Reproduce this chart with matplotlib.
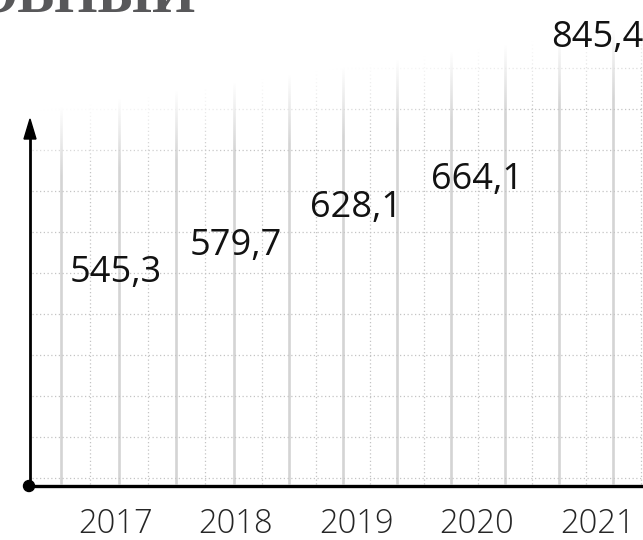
import numpy as np
import matplotlib
matplotlib.use("Agg")
import matplotlib.pyplot as plt
from matplotlib.patches import Polygon, Circle

# ---- data ----
years = ["2017", "2018", "2019", "2020", "2021"]
values = [545.3, 579.7, 628.1, 664.1, 845.4]
value_labels = ["545,3", "579,7", "628,1", "664,1", "845,4"]
title_fragment = "ОВНЫЙ"

W, H = 643, 540
fig = plt.figure(figsize=(W / 100, H / 100), dpi=100)
fig.patch.set_facecolor("white")

# ---- decoration layer in pixel coordinates ----
ov = fig.add_axes([0, 0, 1, 1])
ov.set_xlim(0, W)
ov.set_ylim(H, 0)
ov.axis("off")

solid_x = [61, 119, 176, 234, 289, 343, 397, 451, 505, 559, 613]
dotted_x = [(a + b) / 2 for a, b in zip(solid_x[:-1], solid_x[1:])] + [641]
hy = [478 - 41 * k for k in range(12)]
base_y = 486
axis_x = 30

for x in solid_x:
    ov.plot([x, x], [base_y - 2, 0], color="#d4d4d4", lw=1.9, zorder=1,
            solid_capstyle="butt")
for x in dotted_x:
    ov.plot([x, x], [base_y - 2, 0], color="#c4c4c4", lw=0.9,
            linestyle=(0, (1, 2)), zorder=1)
for y in hy:
    ov.plot([axis_x + 2, W], [y, y], color="#c4c4c4", lw=0.9,
            linestyle=(0, (1, 2)), zorder=1)

# fading of the grid toward the top (diagonal)
xx, yy = np.meshgrid(np.arange(W), np.arange(H))
edge = 115 - 0.14 * xx
alpha = np.clip(1 - (yy - edge) / 70.0, 0, 1)
rgba = np.ones((H, W, 4))
rgba[..., 3] = alpha
ov.imshow(rgba, extent=[0, W, H, 0], aspect="auto", zorder=1.5,
          interpolation="bilinear")
ov.set_xlim(0, W)
ov.set_ylim(H, 0)

# axes: horizontal line, vertical arrow, origin dot
ov.plot([axis_x, W], [base_y, base_y], color="black", lw=2.4, zorder=3,
        solid_capstyle="butt")
ov.plot([axis_x, axis_x], [base_y, 136], color="black", lw=2.0, zorder=3,
        solid_capstyle="butt")
ov.add_patch(Polygon([[axis_x - 6, 139], [axis_x + 6, 139], [axis_x, 119]],
                     closed=True, color="black", zorder=3))
ov.add_patch(Circle((axis_x - 1, base_y), 5.5, color="black", zorder=3))

# cropped title fragment at the top (cut off in the reference as well)
ov.text(195, 11, title_fragment, ha="right", va="baseline",
        fontsize=40, fontweight="bold", color="#58585a",
        family=["Liberation Serif", "DejaVu Serif"], zorder=4)

# ---- data layer ----
ax = fig.add_axes([0, 0, 1, 1])
ax.patch.set_alpha(0)
ax.axis("off")
xi = np.arange(len(years))
x0, dx = 115.7, 120.35
ax.set_xlim(-x0 / dx, (W - x0) / dx)
ax.set_ylim(203.5, 893.6)

for i, (v, lab) in enumerate(zip(values, value_labels)):
    ax.text(xi[i], v, lab, ha="center", va="center", fontsize=26,
            color="#121212", family=["Open Sans", "DejaVu Sans"])

for i, yr in enumerate(years):
    ax.annotate(yr, xy=(xi[i], 0), xycoords=("data", "figure pixels"),
                xytext=(0, 540 - 524), textcoords="offset pixels",
                ha="center", va="center", fontsize=23.5, color="#262626",
                fontweight="light", family=["Open Sans", "DejaVu Sans"])

fig.savefig("out.png", dpi=100, facecolor="white")
